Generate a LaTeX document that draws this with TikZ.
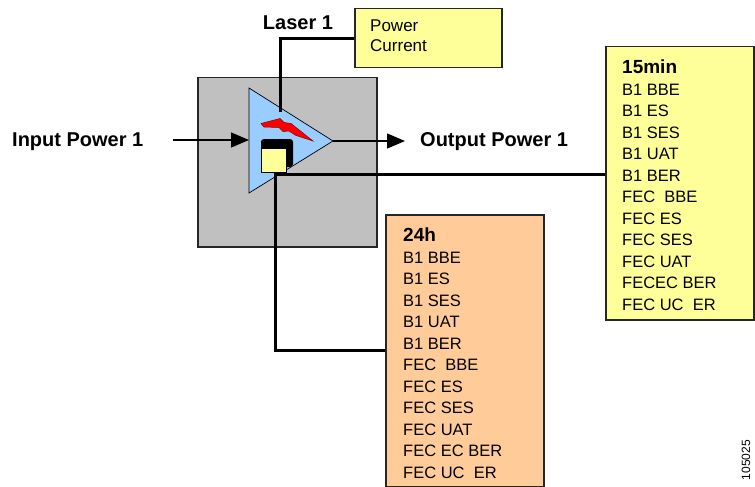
\documentclass[tikz,border=0pt]{standalone}
\usepackage{fontspec}
\setmainfont{Liberation Sans}
\usetikzlibrary{arrows.meta}
\definecolor{grayfill}{HTML}{C0C0C0}
\definecolor{ampblue}{HTML}{99CCFF}
\definecolor{yel}{HTML}{FFFF99}
\definecolor{org}{HTML}{FFCC99}
\begin{document}
\begin{tikzpicture}[x=1pt,y=-1pt,
  conn/.style={line width=3pt, black},
  box/.style={draw=black!85, line width=1.5pt, inner sep=0pt, anchor=north west},
  lbl/.style={font=\bfseries\fontsize{20}{22}\selectfont, inner sep=0pt},
  arr/.style={-{Triangle[length=18pt,width=15pt]}, line width=1.3pt},
  listtxt/.style={anchor=north west, align=left, inner sep=0pt, font=\fontsize{16.5}{21.5}\selectfont}
]
\useasboundingbox (0,0) rectangle (755,487);

% network element gray box
\node[box, fill=grayfill, minimum width=179pt, minimum height=169pt] (ne) at (197,77) {};

% amplifier triangle
\coordinate (tA) at (249,88);
\coordinate (tB) at (249,193);
\coordinate (tC) at (333,141);
\draw[fill=ampblue, draw=black, line width=0.7pt] (tA) -- (tC) -- (tB) -- cycle;

% input / output arrows
\coordinate (inS) at (173,140);
\coordinate (outE) at (405,141);
\draw[arr] (inS) -- (tA |- inS);
\draw[arr] (tC) -- (outE);
\node[lbl, anchor=west] (inl) at (12,142) {Input Power 1};
\node[lbl, anchor=west] (outl) at (420,142) {Output Power 1};

% laser
\node[box, fill=yel, minimum width=147pt, minimum height=59pt] (pc) at (354,8) {};
\node[listtxt, font=\fontsize{17}{20}\selectfont] (pct) at (370,20) {Power\\Current};
\node[lbl] (las) at (298,23) {Laser 1};
\coordinate (lasb) at (280,112);
\draw[conn] (lasb) |- (pc.west);

% lightning
\draw[fill=red, draw=red!50!black, line width=0.5pt]
  (261,123.5) -- (280,118.5) -- (284,122.5) -- (291,123.5) -- (313,141) -- (296,135.5)
  -- (289,131) -- (283,131.5) -- (279,127.5) -- (264,127) -- cycle;

% monitor icon
\fill[black, rounded corners=3pt] (261,139) rectangle (293,167);
\fill[yel] (261,148) rectangle (286,172);
\draw[black, line width=0.4pt] (261,148) rectangle (286,172);

% PM boxes
\node[box, fill=yel, minimum width=148pt, minimum height=273pt] (q) at (605,46) {};
\node[box, fill=org, minimum width=158pt, minimum height=272pt] (d) at (385,214) {};

\node[listtxt] (qt) at (622,60) {{\bfseries\fontsize{19}{21.5}\selectfont 15min}\\B1 BBE\\B1 ES\\B1 SES\\B1 UAT\\B1 BER\\FEC\ \ BBE\\FEC ES\\FEC SES\\FEC UAT\\FECEC BER\\FEC UC\ \ ER};
\node[listtxt] (dt) at (403,228) {{\bfseries\fontsize{19}{21.5}\selectfont 24h}\\B1 BBE\\B1 ES\\B1 SES\\B1 UAT\\B1 BER\\FEC\ \ BBE\\FEC ES\\FEC SES\\FEC UAT\\FEC EC BER\\FEC UC\ \ ER};

% connectors from monitor
\coordinate (iconr) at (276,174);
\coordinate (iconb) at (275,172);
\draw[conn] (iconr) -- (iconr -| q.west);
\draw[conn] (iconb) |- (d.west);

% figure id
\node[font=\fontsize{12}{12}\selectfont, rotate=90, anchor=east, inner sep=0pt] (fid) at (746,440) {105025};
\end{tikzpicture}
\end{document}
